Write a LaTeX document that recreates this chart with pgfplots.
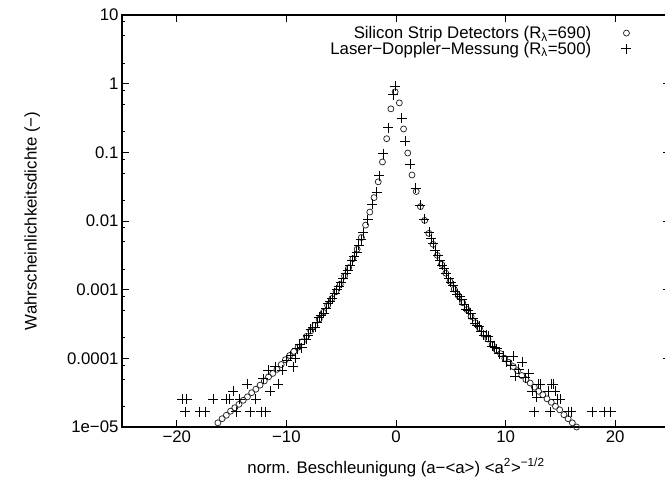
\documentclass[border=0pt]{standalone}
\usepackage{fontspec}
\setmainfont{Liberation Sans}
\usepackage{pgfplots}
\pgfplotsset{compat=1.18}

% Silicon Strip Detectors (R_lambda = 690)
\pgfplotstableread{
x y
-16.25 1.15e-5
-15.865 1.32e-5
-15.48 1.48e-5
-15.095 1.70e-5
-14.71 1.91e-5
-14.325 2.14e-5
-13.94 2.45e-5
-13.555 2.75e-5
-13.17 3.16e-5
-12.785 3.55e-5
-12.40 4.07e-5
-12.015 4.68e-5
-11.63 5.37e-5
-11.245 6.03e-5
-10.86 6.92e-5
-10.475 8.13e-5
-10.09 9.55e-5
-9.705 1.10e-4
-9.32 1.26e-4
-8.935 1.45e-4
-8.55 1.74e-4
-8.165 2.09e-4
-7.78 2.51e-4
-7.395 3.02e-4
-7.01 3.72e-4
-6.625 4.68e-4
-6.24 5.89e-4
-5.855 7.41e-4
-5.47 9.33e-4
-5.085 1.20e-3
-4.70 1.58e-3
-4.315 2.09e-3
-3.93 2.82e-3
-3.545 3.89e-3
-3.16 5.75e-3
-2.775 8.71e-3
-2.39 1.35e-2
-2.005 2.19e-2
-1.62 3.72e-2
-1.235 7.24e-2
-0.85 0.158
-0.465 0.43
-0.08 0.76
0.305 0.525
0.69 0.219
1.075 0.0977
1.46 0.0468
1.845 0.0269
2.23 0.0162
2.615 0.0102
3.0 6.61e-3
3.385 4.57e-3
3.77 3.16e-3
4.155 2.34e-3
4.54 1.74e-3
4.925 1.32e-3
5.31 1.02e-3
5.695 8.13e-4
6.08 6.46e-4
6.465 5.13e-4
6.85 4.07e-4
7.235 3.31e-4
7.62 2.75e-4
8.005 2.24e-4
8.39 1.91e-4
8.775 1.58e-4
9.16 1.32e-4
9.545 1.17e-4
9.93 1.00e-4
10.315 8.71e-5
10.70 7.59e-5
11.085 6.61e-5
11.47 5.62e-5
11.855 4.90e-5
12.24 4.37e-5
12.625 3.80e-5
13.01 3.31e-5
13.395 2.95e-5
13.78 2.57e-5
14.165 2.29e-5
14.55 2.00e-5
14.935 1.78e-5
15.32 1.51e-5
15.705 1.32e-5
16.09 1.15e-5
16.475 1.00e-5
}\ssd

% Laser-Doppler-Messung (R_lambda = 500)
\pgfplotstableread{
x y
-19.5 2.52e-5
-19.1 2.52e-5
-19.25 1.68e-5
-17.9 1.68e-5
-17.4 1.68e-5
-16.7 2.52e-5
-15.5 2.52e-5
-15.2 2.52e-5
-14.85 3.36e-5
-14.6 1.68e-5
-14.25 2.52e-5
-13.6 4.2e-5
-13.3 1.68e-5
-12.8 2.52e-5
-12.3 1.68e-5
-12.1 5.04e-5
-11.9 1.68e-5
-11.65 6.72e-5
-11.5 3.36e-5
-11.05 7.56e-5
-10.75 4.2e-5
-10.4 6.72e-5
-9.98 9.2e-5
-9.6 1.09e-4
-9.4 7.56e-5
-9.2 1.01e-4
-9.0 1.38e-4
-8.8 1.58e-4
-8.6 1.43e-4
-8.4 1.86e-4
-8.2 1.91e-4
-8.0 2.19e-4
-7.8 2.63e-4
-7.6 2.82e-4
-7.4 2.82e-4
-7.2 3.39e-4
-7.0 3.98e-4
-6.8 4.17e-4
-6.6 4.57e-4
-6.4 5.37e-4
-6.2 6.31e-4
-6.0 6.76e-4
-5.8 7.41e-4
-5.6 8.91e-4
-5.4 1.0e-3
-5.2 1.12e-3
-5.0 1.26e-3
-4.8 1.48e-3
-4.6 1.74e-3
-4.4 1.91e-3
-4.2 2.24e-3
-4.0 2.69e-3
-3.8 3.09e-3
-3.6 3.55e-3
-3.4 4.47e-3
-3.2 5.37e-3
-3.0 6.76e-3
-2.6 1.05e-2
-2.2 1.74e-2
-1.76 2.63e-2
-1.52 4.57e-2
-1.16 9.55e-2
-0.7 0.229
-0.25 0.69
-0.09 0.91
0.52 0.316
0.82 0.145
1.28 0.0676
1.8 0.0302
2.2 0.017
2.6 0.0107
3.0 6.92e-3
3.2 5.5e-3
3.4 4.68e-3
3.6 3.72e-3
3.8 3.16e-3
4.0 2.63e-3
4.2 2.29e-3
4.4 2.04e-3
4.6 1.70e-3
4.8 1.45e-3
5.0 1.29e-3
5.2 1.15e-3
5.4 9.55e-4
5.6 8.51e-4
5.8 7.94e-4
6.0 7.24e-4
6.2 6.03e-4
6.4 5.25e-4
6.6 5.01e-4
6.8 4.57e-4
7.0 3.80e-4
7.2 3.24e-4
7.4 3.02e-4
7.6 2.95e-4
7.8 2.51e-4
8.0 2.19e-4
8.2 2.19e-4
8.4 2.09e-4
8.6 1.78e-4
8.8 1.51e-4
9.0 1.45e-4
9.2 1.38e-4
9.4 1.17e-4
9.8 1.07e-4
10.1 8.9e-5
10.45 7.9e-5
10.7 1.07e-4
10.9 5.5e-5
11.2 6.9e-5
11.5 8.7e-5
11.8 5.2e-5
12.1 6.0e-5
12.4 3.36e-5
12.6 1.68e-5
12.85 2.7e-5
13.0 4.2e-5
13.15 4.2e-5
13.9 3.36e-5
14.06 1.68e-5
14.2 4.2e-5
14.37 4.2e-5
14.5 3.36e-5
14.7 2.52e-5
15.0 2.52e-5
15.7 1.68e-5
16.0 1.68e-5
17.87 1.68e-5
19.0 1.68e-5
19.6 1.68e-5
}\ldm

\begin{document}
\begin{tikzpicture}
\path[use as bounding box] (0pt,0pt) rectangle (665pt,482pt);
\begin{axis}[
    at={(122pt,55pt)}, anchor=south west,
    scale only axis, width=548pt, height=412pt,
    xmin=-25, xmax=25,
    ymode=log, ymin=1e-5, ymax=10,
    xtick={-20,-10,0,10,20},
    xticklabels={−20,−10,0,10,20},
    ytick={1e-5,1e-4,1e-3,1e-2,1e-1,1,10},
    yticklabels={1e−05,0.0001,0.001,0.01,0.1,1,10},
    minor ytick={2e-5,5e-5,8e-5,2e-4,5e-4,8e-4,2e-3,5e-3,8e-3,2e-2,5e-2,8e-2,0.2,0.5,0.8,2,5,8},
    major tick length=7pt, minor tick length=3.5pt,
    tick style={black, line width=0.8pt},
    axis line style={black, line width=1.1pt},
    tick label style={font=\fontsize{16.8}{19}\selectfont},
    label style={font=\fontsize{16.8}{19}\selectfont},
    xlabel={norm. Beschleunigung (a−<a>) <a\textsuperscript{2}>\textsuperscript{−1/2}},
    ylabel={Wahrscheinlichkeitsdichte (−)},
    xlabel shift=9pt,
    ylabel shift=20pt,
    legend style={draw=none, fill=none, at={(0.945,0.978)}, anchor=north east,
        font=\fontsize{16.8}{18}\selectfont, row sep=-2pt, inner sep=0pt},
    legend cell align=right,
    legend plot pos=right,
    legend image code/.code={\path (0pt,0pt) (46pt,0pt); \draw[#1] plot coordinates {(33pt,0pt)};},
]
\addplot[only marks, mark=o, mark size=3pt, black!85, mark options={line width=0.75pt}] table[x=x,y=y] {\ssd};
\addlegendentry{Silicon Strip Detectors (R\textsubscript{λ}=690)}
\addplot[only marks, mark=+, mark size=5pt, black, mark options={line width=0.7pt}] table[x=x,y=y] {\ldm};
\addlegendentry{Laser−Doppler−Messung (R\textsubscript{λ}=500)}
\end{axis}
\end{tikzpicture}
\end{document}
